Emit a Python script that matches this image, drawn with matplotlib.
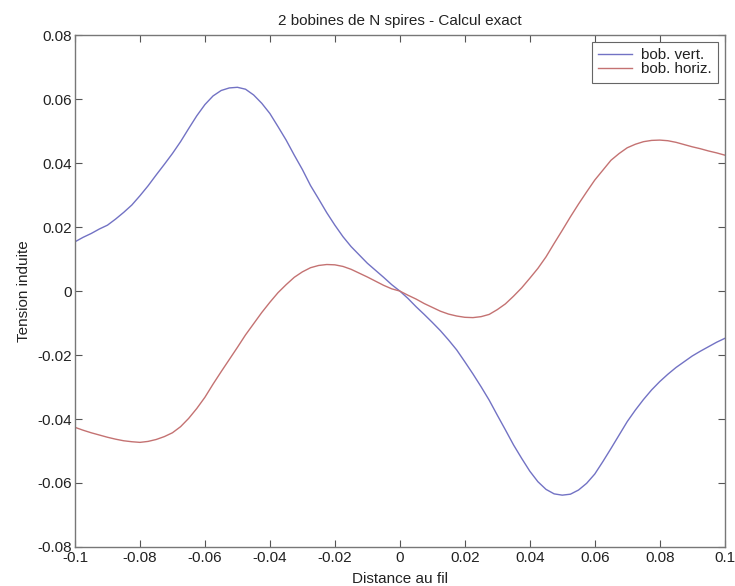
import matplotlib
matplotlib.use("Agg")
import matplotlib.pyplot as plt

# values (step 0.0025 along the distance axis)
x_dist = [-0.1000, -0.0975, -0.0950, -0.0925, -0.0900, -0.0875, -0.0850, -0.0825, -0.0800, -0.0775,
          -0.0750, -0.0725, -0.0700, -0.0675, -0.0650, -0.0625, -0.0600, -0.0575, -0.0550, -0.0525,
          -0.0500, -0.0475, -0.0450, -0.0425, -0.0400, -0.0375, -0.0350, -0.0325, -0.0300, -0.0275,
          -0.0250, -0.0225, -0.0200, -0.0175, -0.0150, -0.0125, -0.0100, -0.0075, -0.0050, -0.0025,
          0.0000,
          0.0025, 0.0050, 0.0075, 0.0100, 0.0125, 0.0150, 0.0175, 0.0200, 0.0225, 0.0250,
          0.0275, 0.0300, 0.0325, 0.0350, 0.0375, 0.0400, 0.0425, 0.0450, 0.0475, 0.0500,
          0.0525, 0.0550, 0.0575, 0.0600, 0.0625, 0.0650, 0.0675, 0.0700, 0.0725, 0.0750,
          0.0775, 0.0800, 0.0825, 0.0850, 0.0875, 0.0900, 0.0925, 0.0950, 0.0975, 0.1000]

bob_vert = [0.0154, 0.0168, 0.0180, 0.0194, 0.0206, 0.0225, 0.0246, 0.0269, 0.0298, 0.0329,
            0.0363, 0.0396, 0.0430, 0.0467, 0.0508, 0.0548, 0.0583, 0.0610, 0.0627, 0.0635,
            0.0637, 0.0631, 0.0613, 0.0587, 0.0555, 0.0514, 0.0472, 0.0425, 0.0380, 0.0330,
            0.0288, 0.0245, 0.0206, 0.0170, 0.0139, 0.0113, 0.0087, 0.0065, 0.0043, 0.0020,
            0.0000,
            -0.0023, -0.0049, -0.0073, -0.0098, -0.0124, -0.0153, -0.0184, -0.0221, -0.0259, -0.0299,
            -0.0341, -0.0388, -0.0434, -0.0481, -0.0523, -0.0563, -0.0596, -0.0620, -0.0634, -0.0638,
            -0.0635, -0.0622, -0.0601, -0.0572, -0.0533, -0.0492, -0.0450, -0.0408, -0.0372, -0.0339,
            -0.0309, -0.0283, -0.0260, -0.0239, -0.0221, -0.0203, -0.0188, -0.0174, -0.0160, -0.0148]

bob_horiz = [-0.0426, -0.0435, -0.0443, -0.0450, -0.0457, -0.0463, -0.0468, -0.0471, -0.0473, -0.0470,
             -0.0464, -0.0455, -0.0443, -0.0424, -0.0398, -0.0367, -0.0332, -0.0291, -0.0252, -0.0214,
             -0.0176, -0.0137, -0.0102, -0.0067, -0.0035, -0.0005, 0.0020, 0.0043, 0.0060, 0.0073,
             0.0080, 0.0083, 0.0082, 0.0077, 0.0068, 0.0056, 0.0044, 0.0031, 0.0018, 0.0007,
             0.0000,
             -0.0013, -0.0025, -0.0039, -0.0051, -0.0063, -0.0072, -0.0078, -0.0082, -0.0083, -0.0080,
             -0.0073, -0.0058, -0.0040, -0.0016, 0.0010, 0.0040, 0.0071, 0.0107, 0.0149, 0.0190,
             0.0232, 0.0272, 0.0310, 0.0347, 0.0378, 0.0409, 0.0430, 0.0448, 0.0459, 0.0467,
             0.0471, 0.0472, 0.0470, 0.0465, 0.0458, 0.0451, 0.0445, 0.0438, 0.0432, 0.0425]

x_ticks = [-0.1, -0.08, -0.06, -0.04, -0.02, 0, 0.02, 0.04, 0.06, 0.08, 0.1]
x_ticklabels = ["-0.1", "-0.08", "-0.06", "-0.04", "-0.02", "0", "0.02", "0.04", "0.06", "0.08", "0.1"]
y_ticks = [-0.08, -0.06, -0.04, -0.02, 0, 0.02, 0.04, 0.06, 0.08]
y_ticklabels = ["-0.08", "-0.06", "-0.04", "-0.02", "0", "0.02", "0.04", "0.06", "0.08"]

plt.rcParams['font.family'] = ['Liberation Sans', 'DejaVu Sans']

fig = plt.figure(figsize=(7.35, 5.86), dpi=100)
ax = fig.add_axes([0.102, 0.0666, 0.884, 0.8734])

ax.plot(x_dist, bob_vert, color='#7272c4', linewidth=1.0, label='bob. vert.')
ax.plot(x_dist, bob_horiz, color='#c47272', linewidth=1.0, label='bob. horiz.')

ax.set_xlim(-0.1, 0.1)
ax.set_ylim(-0.08, 0.08)
ax.set_xticks(x_ticks)
ax.set_xticklabels(x_ticklabels)
ax.set_yticks(y_ticks)
ax.set_yticklabels(y_ticklabels)

ax.tick_params(direction='in', length=5, width=0.8, colors='#555555', labelcolor='#222222',
               labelsize=11, top=True, right=True)
ax.tick_params(axis='x', pad=3)
ax.tick_params(axis='y', pad=2)
for spine in ax.spines.values():
    spine.set_color('#777777')
    spine.set_linewidth(1.0)

ax.set_title("2 bobines de N spires - Calcul exact", fontsize=11, color='#222222', pad=7)
ax.set_xlabel("Distance au fil", fontsize=11, color='#222222', labelpad=5)
ax.set_ylabel("Tension induite", fontsize=11, color='#222222', labelpad=5)

leg = ax.legend(loc='upper right', bbox_to_anchor=(0.989, 0.986), borderaxespad=0,
                fontsize=11, fancybox=False, framealpha=1, edgecolor='#666666',
                handlelength=2.2, handletextpad=0.6, labelspacing=0.0,
                borderpad=0.4)
leg.get_frame().set_linewidth(0.8)
for t in leg.get_texts():
    t.set_color('#222222')

fig.savefig("out.png", dpi=100)
